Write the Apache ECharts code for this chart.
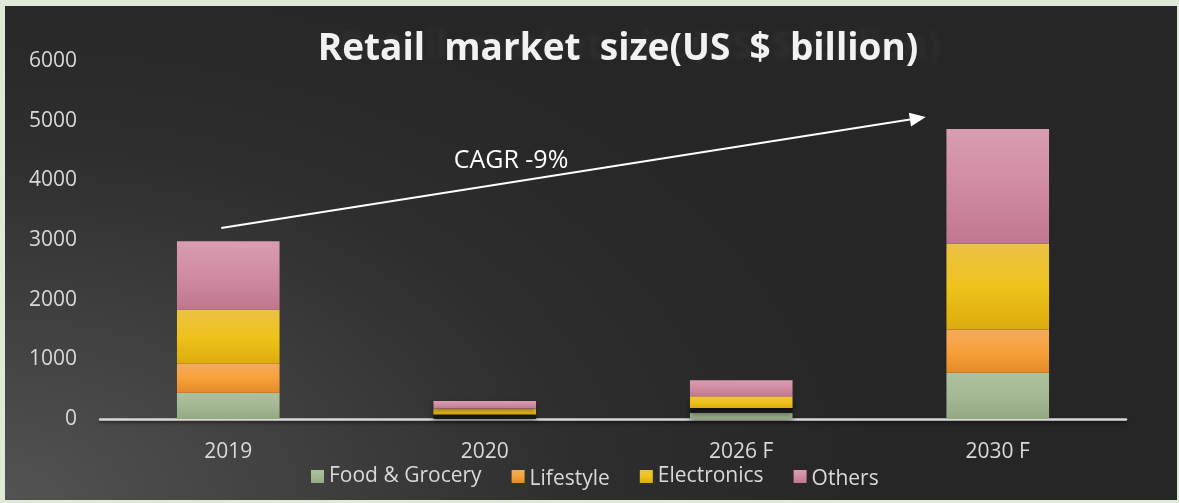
<!DOCTYPE html>
<html>
<head>
<meta charset="utf-8">
<script src="https://cdn.jsdelivr.net/npm/echarts@6/dist/echarts.min.js"></script>
<style>
  html, body { margin: 0; padding: 0; background: #e0e9d8; }
  #chart {
    position: absolute; left: 5px; top: 6px; width: 1172px; height: 494px;
    background: radial-gradient(ellipse 75% 110% at 0% 100%, #535353 0%, #3f3f3f 35%, #2e2e2e 65%, #262626 100%);
  }
</style>
</head>
<body>
<div id="chart"></div>
<script>
// Retail market size by segment, US $ billion
const categories = ['2019', '2020', '2026 F', '2030 F'];
const seriesNames = ['Food & Grocery', 'Lifestyle', 'Electronics', 'Others'];
const foodGrocery = [440, 0, 100, 775];
const lifestyle = [490, 75, 85, 725];
const electronics = [905, 100, 195, 1440];
const others = [1145, 125, 270, 1920];
const yTicks = [0, 1000, 2000, 3000, 4000, 5000, 6000];
const growthLabel = 'CAGR -9%';
const titleText = 'Retail  market  size(US  $  billion)';

const chart = echarts.init(document.getElementById('chart'));
const FONT = '"Open Sans", "Noto Sans", sans-serif';
const LABEL = '#d9d9d9';

function grad(top, mid, bottom) {
  return new echarts.graphic.LinearGradient(0, 0, 0, 1, [
    { offset: 0, color: top }, { offset: 0.5, color: mid }, { offset: 1, color: bottom }
  ]);
}
const fills = [
  grad('#adc19c', '#a4b893', '#95a884'),
  grad('#f4ab5e', '#f7a13a', '#e48a28'),
  grad('#ebc246', '#efc21c', '#dcac0c'),
  grad('#d99db2', '#d08ba3', '#bf778f')
];
const legendColors = ['#9fb58e', '#f7a03a', '#eec21b', '#cf8aa0'];
// the small lifestyle slices of 2020 and 2026 F are shown almost black
const darkLifestyle = [1, 2];
// legend entries whose text sits a little lower
const loweredLegend = ['Lifestyle', 'Others'];

const valueSets = [foodGrocery, lifestyle, electronics, others];
const series = seriesNames.map((name, s) => ({
  name: name,
  type: 'bar',
  stack: 'total',
  barWidth: '40%',
  color: legendColors[s],
  itemStyle: {
    color: fills[s],
    shadowColor: 'rgba(0,0,0,0.45)',
    shadowBlur: 5,
    shadowOffsetY: 2
  },
  emphasis: { disabled: true },
  data: valueSets[s].map((v, i) =>
    (s === 1 && darkLifestyle.includes(i)) ? { value: v, itemStyle: { color: '#1c1c1c' } } : v)
}));

chart.setOption({
  animation: false,
  backgroundColor: 'transparent',
  textStyle: { fontFamily: FONT },
  grid: { left: 95, right: 51, top: 55, bottom: 81 },
  legend: {
    left: 301, top: 455,
    itemWidth: 13, itemHeight: 13, itemGap: 30,
    icon: 'rect',
    textStyle: {
      color: LABEL, fontSize: 21, fontFamily: FONT,
      rich: {
        up: { color: LABEL, fontSize: 21, fontFamily: FONT },
        low: { color: LABEL, fontSize: 21, fontFamily: FONT, padding: [6, 0, 0, 0] }
      }
    },
    formatter: n => loweredLegend.includes(n) ? '{low|' + n + '}' : '{up|' + n + '}',
    data: seriesNames
  },
  xAxis: {
    type: 'category',
    data: categories,
    axisLine: { lineStyle: { color: '#d9d9d9', width: 2.5, shadowColor: 'rgba(0,0,0,0.5)', shadowBlur: 3, shadowOffsetY: 2 } },
    axisTick: { show: false },
    axisLabel: { color: LABEL, fontSize: 21, margin: 23, fontFamily: FONT }
  },
  yAxis: {
    type: 'value',
    min: yTicks[0], max: yTicks[yTicks.length - 1], interval: yTicks[1] - yTicks[0],
    axisLine: { show: false },
    axisTick: { show: false },
    splitLine: { show: false },
    axisLabel: { color: LABEL, fontSize: 21, margin: 23, fontFamily: FONT, formatter: v => String(v) }
  },
  series: series
});

// growth arrow from above the first bar towards the last one
const start = chart.convertToPixel({ gridIndex: 0 }, [categories[0], 3200]);
const end = chart.convertToPixel({ gridIndex: 0 }, [categories[3], 5060]);
const x1 = start[0] - 7, y1 = start[1];
const x2 = end[0] - 72, y2 = end[1];
const ang = Math.atan2(y2 - y1, x2 - x1);
const headLen = 16, headHalf = 7;
const bx = x2 - headLen * Math.cos(ang), by = y2 - headLen * Math.sin(ang);
const px = -Math.sin(ang) * headHalf, py = Math.cos(ang) * headHalf;

chart.setOption({
  graphic: [
    {
      type: 'text', x: 613, y: 43, z: 10,
      style: {
        text: titleText, fill: '#f2f2f2', fontSize: 37, fontWeight: 'bold', fontFamily: FONT,
        align: 'center', verticalAlign: 'middle',
        textShadowColor: 'rgba(60,60,60,0.35)', textShadowBlur: 4, textShadowOffsetX: 22, textShadowOffsetY: -2
      }
    },
    {
      type: 'line', z: 10,
      shape: { x1: x1, y1: y1, x2: bx, y2: by },
      style: { stroke: '#ffffff', lineWidth: 2 }
    },
    {
      type: 'polygon', z: 10,
      shape: { points: [[x2, y2], [bx + px, by + py], [bx - px, by - py]] },
      style: { fill: '#ffffff' }
    },
    {
      type: 'text', x: 506, y: 155, z: 10,
      style: {
        text: growthLabel, fill: '#ffffff', fontSize: 25, fontFamily: FONT,
        align: 'center', verticalAlign: 'middle'
      }
    }
  ]
});
</script>
</body>
</html>
